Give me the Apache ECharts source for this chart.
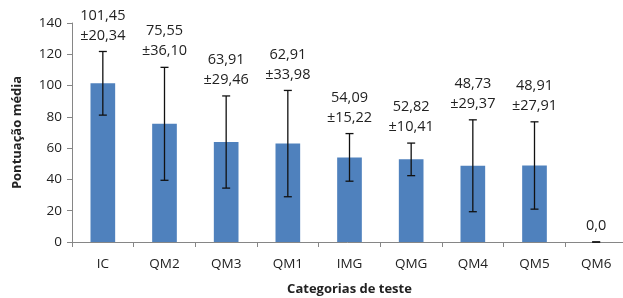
<!DOCTYPE html>
<html>
<head>
<meta charset="utf-8">
<script src="https://cdn.jsdelivr.net/npm/echarts@6/dist/echarts.min.js"></script>
<style>
  html, body { margin: 0; padding: 0; background: #fff; }
  #chart { width: 623px; height: 298px; }
</style>
</head>
<body>
<div id="chart"></div>
<script>
// categorias e valores
var categories = ['IC', 'QM2', 'QM3', 'QM1', 'IMG', 'QMG', 'QM4', 'QM5', 'QM6'];
var means = [101.45, 75.55, 63.91, 62.91, 54.09, 52.82, 48.73, 48.91, 0.0];
var sds = [20.34, 36.10, 29.46, 33.98, 15.22, 10.41, 29.37, 27.91, 0.0];

var font = 'Open Sans';

function fmt(v) {
  return v.toFixed(v === 0 ? 1 : 2).replace('.', ',');
}

var errData = categories.map(function (c, i) {
  return [i, means[i] + sds[i], means[i] - sds[i], means[i], sds[i]];
});

var myChart = echarts.init(document.getElementById('chart'));

var option = {
  animation: false,
  grid: { left: 72, right: -4, top: 23, bottom: 56, outerBoundsMode: 'none' },
  xAxis: {
    type: 'category',
    data: categories,
    name: 'Categorias de teste',
    nameLocation: 'middle',
    nameGap: 41,
    nameTextStyle: { fontFamily: font, fontSize: 13, fontWeight: 'bold', color: '#222' },
    axisLine: { lineStyle: { color: '#868686' } },
    axisTick: { show: true, length: 5, lineStyle: { color: '#868686' } },
    axisLabel: { fontFamily: font, fontSize: 13.5, color: '#222', margin: 15 }
  },
  yAxis: {
    type: 'value',
    min: 0,
    max: 140,
    interval: 20,
    name: 'Pontuação média',
    nameLocation: 'middle',
    nameGap: 48,
    nameTextStyle: { fontFamily: font, fontSize: 13, fontWeight: 'bold', color: '#222' },
    axisLine: { show: true, lineStyle: { color: '#868686' } },
    axisTick: { show: true, length: 5, lineStyle: { color: '#868686' } },
    splitLine: { show: false },
    axisLabel: { fontFamily: font, fontSize: 13.5, color: '#222', margin: 10 }
  },
  series: [
    {
      type: 'bar',
      data: means,
      barWidth: '40%',
      itemStyle: { color: '#4F81BD' }
    },
    {
      type: 'custom',
      data: errData,
      encode: { x: 0, y: [1, 2] },
      z: 10,
      renderItem: function (params, api) {
        var i = api.value(0);
        var top = api.coord([i, api.value(1)]);
        var bot = api.coord([i, api.value(2)]);
        var m = api.value(3);
        var s = api.value(4);
        var cap = 4;
        var style = { stroke: '#111', lineWidth: 1.3 };
        var text = m === 0 ? fmt(m) : fmt(m) + '\n±' + fmt(s);
        return {
          type: 'group',
          children: [
            { type: 'line', shape: { x1: top[0], y1: top[1], x2: bot[0], y2: bot[1] }, style: style },
            { type: 'line', shape: { x1: top[0] - cap, y1: top[1], x2: top[0] + cap, y2: top[1] }, style: style },
            { type: 'line', shape: { x1: bot[0] - cap, y1: bot[1], x2: bot[0] + cap, y2: bot[1] }, style: style },
            {
              type: 'text',
              x: top[0],
              y: top[1] - 6,
              style: {
                text: text,
                fontFamily: font,
                fontSize: 14.5,
                lineHeight: 20,
                fill: '#222',
                align: 'center',
                verticalAlign: 'bottom'
              }
            }
          ]
        };
      }
    }
  ]
};

myChart.setOption(option);
</script>
</body>
</html>
